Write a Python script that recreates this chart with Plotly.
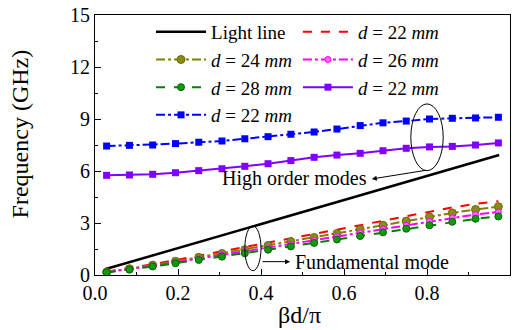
import plotly.graph_objects as go

x_pts = [0.028, 0.083, 0.139, 0.194, 0.250, 0.306, 0.361, 0.417, 0.472,
         0.528, 0.583, 0.639, 0.694, 0.750, 0.806, 0.861, 0.917, 0.972]
x_light = [0.024, 0.974]
f_light = [0.33, 6.92]

f_d22 = [0.19, 0.39, 0.62, 0.86, 1.11, 1.35, 1.59, 1.85, 2.09, 2.35, 2.61, 2.87, 3.13, 3.39, 3.65, 3.90, 4.10, 4.25]
f_d24 = [0.17, 0.36, 0.57, 0.79, 1.02, 1.24, 1.46, 1.70, 1.92, 2.16, 2.39, 2.63, 2.87, 3.11, 3.35, 3.58, 3.78, 3.94]
f_d26 = [0.16, 0.33, 0.53, 0.73, 0.94, 1.14, 1.35, 1.57, 1.77, 1.99, 2.21, 2.43, 2.65, 2.87, 3.09, 3.30, 3.49, 3.64]
f_d28 = [0.15, 0.31, 0.49, 0.68, 0.87, 1.06, 1.25, 1.46, 1.65, 1.85, 2.05, 2.25, 2.46, 2.67, 2.87, 3.07, 3.24, 3.38]
f_high1 = [5.75, 5.77, 5.81, 5.90, 6.02, 6.13, 6.27, 6.42, 6.60, 6.79, 6.92, 7.02, 7.17, 7.31, 7.39, 7.42, 7.50, 7.62]
f_high2 = [7.44, 7.48, 7.50, 7.58, 7.66, 7.73, 7.86, 7.98, 8.12, 8.25, 8.42, 8.62, 8.78, 8.88, 9.00, 9.04, 9.06, 9.10]

x_ticks = [0.0, 0.2, 0.4, 0.6, 0.8, 1.0]
x_tick_labels = ["0.0", "0.2", "0.4", "0.6", "0.8", "1.0"]
y_ticks = [0, 3, 6, 9, 12, 15]
x_title = "βd/π"
y_title = "Frequency (GHz)"

FONT = "'Times New Roman', 'Liberation Serif', 'DejaVu Serif', serif"
dlab = "<i>d</i> = {} <i>mm</i>"

fig = go.Figure()
fig.add_trace(go.Scatter(x=x_light, y=f_light, mode="lines", name="Light line", legend="legend",
                         line=dict(color="black", width=2.5)))
fig.add_trace(go.Scatter(x=x_pts, y=f_d22, mode="lines", name=dlab.format(22), legend="legend2",
                         line=dict(color="#FF0000", width=2, dash="dash")))
fig.add_trace(go.Scatter(x=x_pts, y=f_d24, mode="lines+markers", name=dlab.format(24), legend="legend",
                         line=dict(color="#808000", width=2, dash="dashdot"),
                         marker=dict(symbol="circle", size=8, color="#8B8B1A",
                                     line=dict(color="#6B6B00", width=1))))
fig.add_trace(go.Scatter(x=x_pts, y=f_d26, mode="lines+markers", name=dlab.format(26), legend="legend2",
                         line=dict(color="#FF00FF", width=2, dash="dashdot"),
                         marker=dict(symbol="circle", size=6, color="#FF66FF",
                                     line=dict(color="#FF00FF", width=1))))
fig.add_trace(go.Scatter(x=x_pts, y=f_d28, mode="lines+markers", name=dlab.format(28), legend="legend",
                         line=dict(color="#008000", width=2, dash="dash"),
                         marker=dict(symbol="circle", size=7, color="#119911",
                                     line=dict(color="#006600", width=1))))
fig.add_trace(go.Scatter(x=x_pts, y=f_high1, mode="lines+markers", name=dlab.format(22), legend="legend2",
                         line=dict(color="#8000FF", width=2),
                         marker=dict(symbol="square", size=7, color="#8000FF")))
fig.add_trace(go.Scatter(x=x_pts, y=f_high2, mode="lines+markers", name=dlab.format(22), legend="legend",
                         line=dict(color="#0000FF", width=2, dash="dashdot"),
                         marker=dict(symbol="square", size=7, color="#0000FF")))

# ellipses
fig.add_shape(type="circle", xref="x", yref="y", x0=0.761, x1=0.839, y0=6.02, y1=9.87,
              line=dict(color="black", width=1))
fig.add_shape(type="circle", xref="x", yref="y", x0=0.361, x1=0.400, y0=0.25, y1=2.83,
              line=dict(color="black", width=1))

# arrows
fig.add_annotation(x=0.667, y=5.54, ax=0.80, ay=6.05, xref="x", yref="y", axref="x", ayref="y",
                   text="", showarrow=True, arrowhead=2, arrowsize=1, arrowwidth=1, arrowcolor="black")
fig.add_annotation(x=0.47, y=0.77, ax=0.40, ay=0.77, xref="x", yref="y", axref="x", ayref="y",
                   text="", showarrow=True, arrowhead=2, arrowsize=1, arrowwidth=1, arrowcolor="black")
fig.add_annotation(x=0.48, y=5.54, xref="x", yref="y", text="High order modes", showarrow=False,
                   font=dict(family=FONT, size=20, color="black"))
fig.add_annotation(x=0.476, y=0.77, xref="x", yref="y", text="Fundamental mode", showarrow=False,
                   xanchor="left", font=dict(family=FONT, size=20, color="black"))

# axis titles
fig.add_annotation(x=0.493, y=-0.155, xref="paper", yref="paper", text=x_title, showarrow=False,
                   xanchor="center", yanchor="middle", font=dict(family=FONT, size=24, color="black"))
fig.add_annotation(x=-0.18, y=0.542, xref="paper", yref="paper", text=y_title, showarrow=False,
                   textangle=-90, xanchor="center", yanchor="middle",
                   font=dict(family=FONT, size=24, color="black"))

axis_common = dict(showline=True, linecolor="black", linewidth=1, mirror=True, automargin=False,
                   ticks="inside", ticklen=6, tickcolor="black", showgrid=False, zeroline=False,
                   tickfont=dict(family=FONT, size=20, color="black"))

fig.update_xaxes(range=[0, 1], tickvals=x_ticks, ticktext=x_tick_labels,
                 minor=dict(ticks="inside", ticklen=3, dtick=0.1, tickcolor="black"),
                 **axis_common)
fig.update_yaxes(range=[0, 15], tickvals=y_ticks,
                 minor=dict(ticks="inside", ticklen=3, dtick=1.5, tickcolor="black"),
                 **axis_common)

leg_common = dict(orientation="v", xanchor="left", yanchor="top", bgcolor="rgba(0,0,0,0)",
                  font=dict(family=FONT, size=19, color="black"), itemwidth=50, tracegroupgap=0)
fig.update_layout(
    template="none",
    width=522, height=330,
    margin=dict(l=95, r=12, t=15, b=55, pad=0),
    paper_bgcolor="white", plot_bgcolor="white",
    font=dict(family=FONT, size=20, color="black"),
    legend=dict(x=0.135, y=1.008, **leg_common),
    legend2=dict(x=0.489, y=1.008, **leg_common),
    showlegend=True,
)

fig.write_html("out.html", config={"displayModeBar": False},
               post_script="document.body.style.margin='0px';document.body.style.overflow='hidden';")
